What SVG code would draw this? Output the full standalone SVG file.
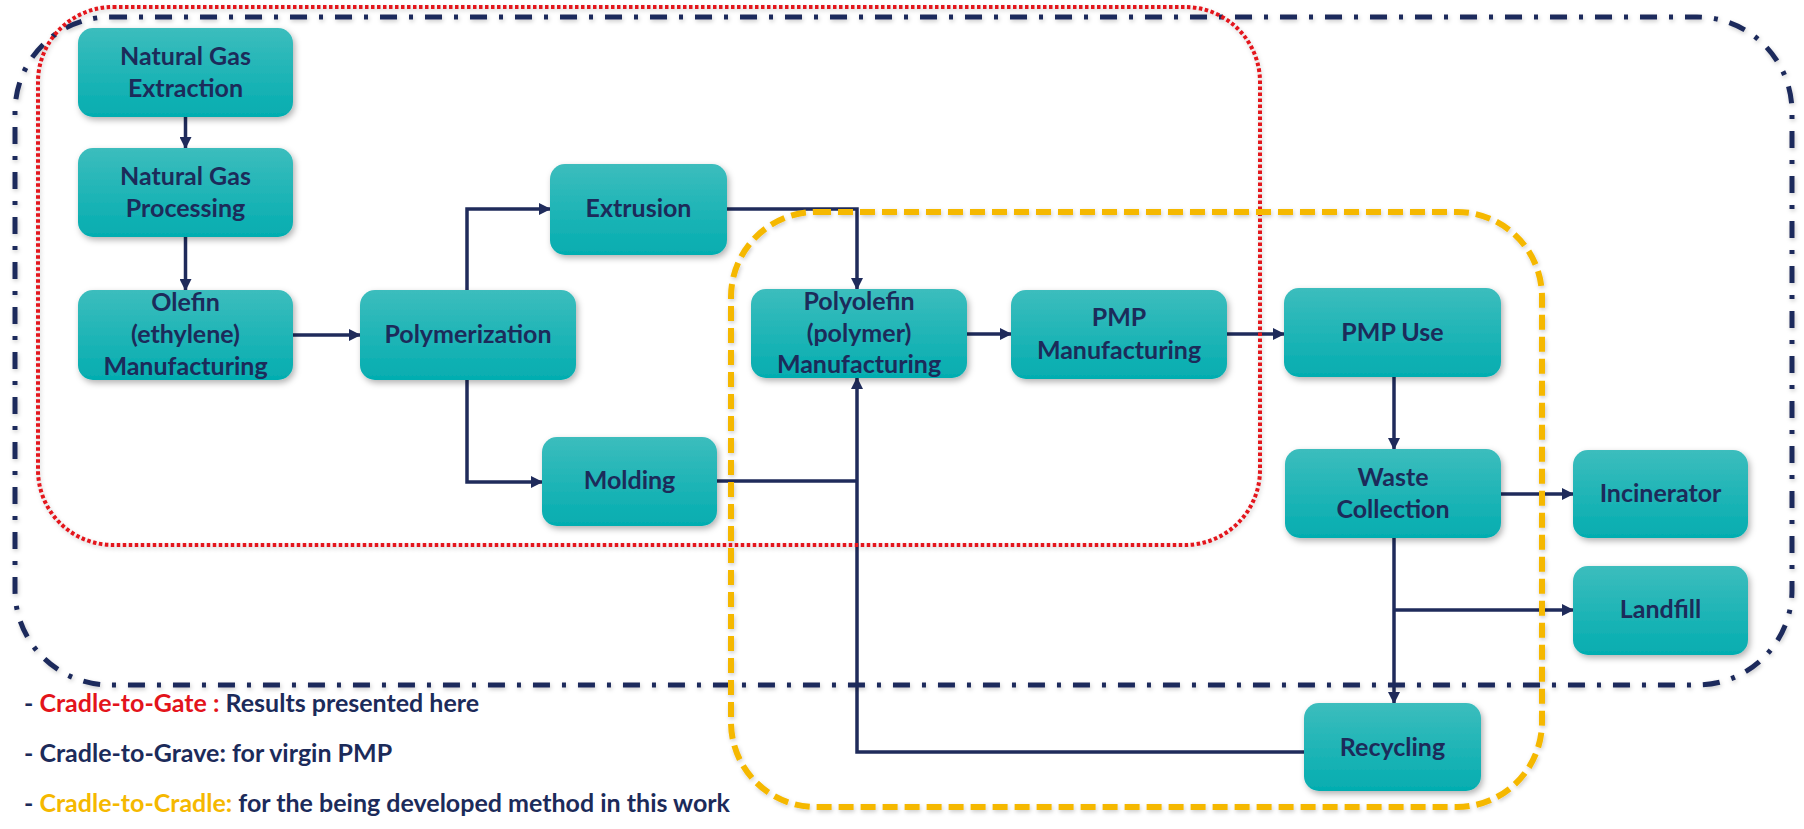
<svg xmlns="http://www.w3.org/2000/svg" width="1804" height="829" viewBox="0 0 1804 829">
<defs>
<linearGradient id="tealGrad" x1="0" y1="0" x2="0" y2="1">
<stop offset="0" stop-color="#3cbdbd"/>
<stop offset="1" stop-color="#04adb0"/>
</linearGradient>
<filter id="shadow" x="-10%" y="-10%" width="130%" height="140%">
<feDropShadow dx="2" dy="3" stdDeviation="3" flood-color="#000" flood-opacity="0.3"/>
</filter>
<filter id="soft" x="-5%" y="-5%" width="110%" height="110%">
<feDropShadow dx="1" dy="2" stdDeviation="2" flood-color="#000" flood-opacity="0.2"/>
</filter>
<marker id="arrow" viewBox="0 0 12 12" markerWidth="12" markerHeight="12" refX="11" refY="6" orient="auto" markerUnits="userSpaceOnUse">
<path d="M0,0 L12,6 L0,12 z" fill="#1f2b5b"/>
</marker>
<style>
.box{fill:url(#tealGrad);filter:url(#shadow);}
.lbl{font-family:Lato,"Liberation Sans",sans-serif;font-weight:700;font-size:25px;fill:#1c2b5a;text-anchor:middle;}
.con{fill:none;stroke:#1f2b5b;stroke-width:3.5;}
.leg{font-family:Lato,"Liberation Sans",sans-serif;font-weight:700;font-size:25px;fill:#1c2b5a;}
.red{fill:#e3141b;}
.yel{fill:#f5b800;}
</style>
</defs>
<rect width="1804" height="829" fill="#ffffff"/>

<g id="connectors">
<path class="con" d="M185.5,117 V148" marker-end="url(#arrow)"/>
<path class="con" d="M185.5,237 V290" marker-end="url(#arrow)"/>
<path class="con" d="M293,335 H360" marker-end="url(#arrow)"/>
<path class="con" d="M467,290 V209 H550" marker-end="url(#arrow)"/>
<path class="con" d="M467,380 V482 H542" marker-end="url(#arrow)"/>
<path class="con" d="M727,209 H857 V289" marker-end="url(#arrow)"/>
<path class="con" d="M717,481 H857"/>
<path class="con" d="M1304,752 H857 V378" marker-end="url(#arrow)"/>
<path class="con" d="M967,334 H1011" marker-end="url(#arrow)"/>
<path class="con" d="M1227,334 H1284" marker-end="url(#arrow)"/>
<path class="con" d="M1394,377 V449" marker-end="url(#arrow)"/>
<path class="con" d="M1501,494 H1573" marker-end="url(#arrow)"/>
<path class="con" d="M1394,538 V703" marker-end="url(#arrow)"/>
<path class="con" d="M1394,610 H1573" marker-end="url(#arrow)"/>
</g>

<g id="boundaries" filter="url(#soft)">
<rect id="cradle-to-grave" x="15" y="17" width="1777" height="668" rx="95" ry="95" fill="none" stroke="#1f2b5b" stroke-width="5" stroke-dasharray="17 12 4 12"/>
<rect id="cradle-to-gate" x="38" y="7" width="1222" height="538" rx="75" ry="75" fill="none" stroke="#e3141b" stroke-width="4" stroke-dasharray="3.5 2.5"/>
<rect id="cradle-to-cradle" x="731" y="212" width="811" height="595" rx="85" ry="85" fill="none" stroke="#f5b800" stroke-width="6" stroke-dasharray="15 7"/>
</g>

<g id="natural-gas-extraction">
<rect class="box" x="78" y="28" width="215" height="89" rx="15"/>
<text class="lbl" x="185.5" y="65">Natural Gas</text>
<text class="lbl" x="185.5" y="97">Extraction</text>
</g>
<g id="natural-gas-processing">
<rect class="box" x="78" y="148" width="215" height="89" rx="15"/>
<text class="lbl" x="185.5" y="185">Natural Gas</text>
<text class="lbl" x="185.5" y="217">Processing</text>
</g>
<g id="olefin-manufacturing">
<rect class="box" x="78" y="290" width="215" height="90" rx="15"/>
<text class="lbl" x="185.5" y="311">Olefin</text>
<text class="lbl" x="185.5" y="343">(ethylene)</text>
<text class="lbl" x="185.5" y="375">Manufacturing</text>
</g>
<g id="polymerization">
<rect class="box" x="360" y="290" width="216" height="90" rx="15"/>
<text class="lbl" x="468" y="343">Polymerization</text>
</g>
<g id="extrusion">
<rect class="box" x="550" y="164" width="177" height="91" rx="15"/>
<text class="lbl" x="638.5" y="217">Extrusion</text>
</g>
<g id="molding">
<rect class="box" x="542" y="437" width="175" height="89" rx="15"/>
<text class="lbl" x="629.5" y="489">Molding</text>
</g>
<g id="polyolefin-manufacturing">
<rect class="box" x="751" y="289" width="216" height="89" rx="15"/>
<text class="lbl" x="859" y="310">Polyolefin</text>
<text class="lbl" x="859" y="342">(polymer)</text>
<text class="lbl" x="859" y="373">Manufacturing</text>
</g>
<g id="pmp-manufacturing">
<rect class="box" x="1011" y="290" width="216" height="89" rx="15"/>
<text class="lbl" x="1119" y="326">PMP</text>
<text class="lbl" x="1119" y="359">Manufacturing</text>
</g>
<g id="pmp-use">
<rect class="box" x="1284" y="288" width="217" height="89" rx="15"/>
<text class="lbl" x="1392.5" y="341">PMP Use</text>
</g>
<g id="waste-collection">
<rect class="box" x="1285" y="449" width="216" height="89" rx="15"/>
<text class="lbl" x="1393" y="486">Waste</text>
<text class="lbl" x="1393" y="518">Collection</text>
</g>
<g id="incinerator">
<rect class="box" x="1573" y="450" width="175" height="88" rx="15"/>
<text class="lbl" x="1660.5" y="502">Incinerator</text>
</g>
<g id="landfill">
<rect class="box" x="1573" y="566" width="175" height="89" rx="15"/>
<text class="lbl" x="1660.5" y="618">Landfill</text>
</g>
<g id="recycling">
<rect class="box" x="1304" y="703" width="177" height="88" rx="15"/>
<text class="lbl" x="1392.5" y="756">Recycling</text>
</g>

<g id="legend">
<text class="leg" x="24" y="712">- <tspan class="red">Cradle-to-Gate :</tspan> Results presented here</text>
<text class="leg" x="24" y="762">- Cradle-to-Grave: for virgin PMP</text>
<text class="leg" x="24" y="812">- <tspan class="yel">Cradle-to-Cradle:</tspan> for the being developed method in this work</text>
</g>
</svg>
